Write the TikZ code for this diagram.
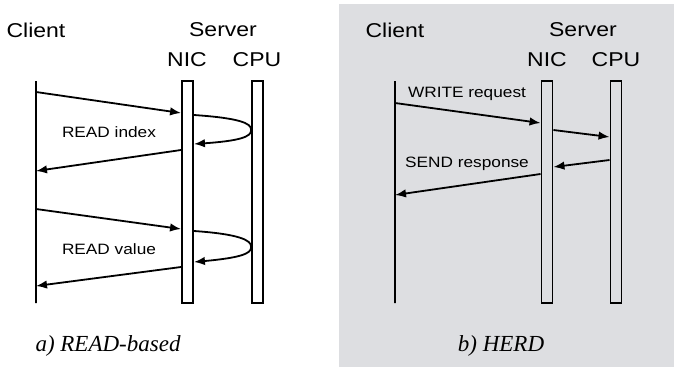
\documentclass[tikz,border=0pt]{standalone}
\usepackage{fontspec}
\setmainfont[FakeStretch=1.15]{Liberation Sans}
\newfontfamily\capfont{Liberation Serif}
\usetikzlibrary{arrows.meta}
\definecolor{panelgray}{RGB}{221,222,225}
\tikzset{
  head/.style={font=\fontsize{20}{22}\selectfont, inner sep=0pt},
  msg/.style={font=\fontsize{15}{17}\selectfont, inner sep=0pt},
  caption/.style={font=\capfont\itshape\fontsize{23}{25}\selectfont, inner sep=0pt},
  lifeline/.style={draw, line width=2pt, minimum width=0pt, inner sep=0pt, minimum height=222pt},
  bar/.style={draw, line width=1.9pt, minimum width=11pt, inner sep=0pt, minimum height=222pt},
  arr/.style={-{Latex[length=11pt,width=8.5pt]}, line width=1.8pt}
}
\begin{document}
\begin{tikzpicture}[x=1pt,y=-1pt]
  \useasboundingbox (0,0) rectangle (674,367);
  \fill[panelgray] (339,4) rectangle (674,367);

  % a) READ-based
  \node[head] (cliA) at (36,30) {Client};
  \node[head] (srvA) at (223,30) {Server};
  \node[head] (nicAl) at (187,60) {NIC};
  \node[head] (cpuAl) at (257,60) {CPU};
  \node[lifeline] (cliAL) at (36,192) {};
  \node[bar] (nicA) at (187.5,192) {};
  \node[bar] (cpuA) at (257.5,192) {};

  \draw[arr] (cliAL |- 0,92) -- (nicA.west |- 0,113);
  \draw[arr] (nicA.east |- 0,115) .. controls (238,118) and (252,123) .. (cpuA.west |- 0,130)
    .. controls (252,137) and (238,141) .. (nicA.east |- 0,144);
  \draw[arr] (nicA.west |- 0,150) -- (cliAL |- 0,171);
  \node[msg] (idx) at (109,132) {READ index};

  \draw[arr] (cliAL |- 0,209) -- (nicA.west |- 0,229);
  \draw[arr] (nicA.east |- 0,231) .. controls (238,234) and (252,240) .. (cpuA.west |- 0,247)
    .. controls (252,254) and (238,258) .. (nicA.east |- 0,262);
  \draw[arr] (nicA.west |- 0,267) -- (cliAL |- 0,286);
  \node[msg] (val) at (109,249) {READ value};

  \node[caption] (capA) at (108,346) {a) READ-based};

  % b) HERD
  \node[head] (cliB) at (395,30) {Client};
  \node[head] (srvB) at (583,30) {Server};
  \node[head] (nicBl) at (547,60) {NIC};
  \node[head] (cpuBl) at (616,60) {CPU};
  \node[lifeline] (cliBL) at (395,192) {};
  \node[bar] (nicB) at (547,192) {};
  \node[bar] (cpuB) at (616,192) {};

  \draw[arr] (cliBL |- 0,103) -- (nicB.west |- 0,123);
  \node[msg] (wreq) at (467,94) {WRITE request};
  \draw[arr] (nicB.east |- 0,130) -- (cpuB.west |- 0,137);
  \draw[arr] (cpuB.west |- 0,160) -- (nicB.east |- 0,167);
  \draw[arr] (nicB.west |- 0,174) -- (cliBL |- 0,195);
  \node[msg] (sresp) at (467,164) {SEND response};

  \node[caption] (capB) at (501,346) {b) HERD};
\end{tikzpicture}
\end{document}
